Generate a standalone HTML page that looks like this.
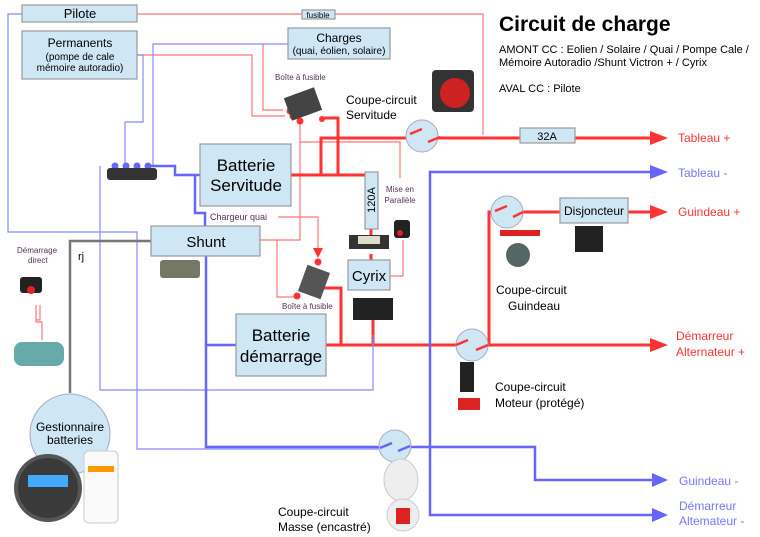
<!DOCTYPE html>
<html><head><meta charset="utf-8"><style>
body{margin:0;background:#fff}
svg{display:block;font-family:"Liberation Sans",sans-serif}
.b{fill:#cfe6f5;stroke:#999;stroke-width:1.2}
.c{fill:#cfe6f5;stroke:#aab;stroke-width:1}
</style></head><body>
<svg width="760" height="537" viewBox="0 0 760 537">
<defs>
<marker id="ar" markerWidth="8" markerHeight="8" refX="1" refY="4" orient="auto" markerUnits="userSpaceOnUse"><path d="M0,0 L0,0"/></marker>
</defs>
<!-- thin red lines -->
<g fill="none" stroke="#f77" stroke-width="1.2">
<path d="M137,14 H483 V135"/>
<path d="M137,55 H252 V116 H285"/>
<path d="M263,44 V110 H283"/>
<path d="M300,120 V240 H260"/>
<path d="M300,142 H400 V178"/>
<path d="M403,240 V276 H390"/>
<path d="M278,217 H318 V250"/>
<path d="M277,240 V297 H296"/>
<path d="M36,305 V322 H42 V340"/>
<path d="M40,305 V320 H36"/>
</g>
<polygon points="313,248 323,248 318,258" fill="#f33"/>
<!-- thick red -->
<g fill="none" stroke="#f33" stroke-width="3">
<path d="M291,175 H371"/>
<path d="M321,175 V138 H406"/>
<path d="M338,175 V118 H322"/>
<path d="M438,138 H520 M575,138 H652"/>
<path d="M371,229 V236 M371,254 V260 M373,318 V345"/>
<path d="M322,288 H341 V345"/>
<path d="M326,345 H456 M488,345 H652"/>
<path d="M489,345 V212 H491 M523,212 H560 M628,212 H652"/>
</g>
<g fill="#f33">
<polygon points="650,131 668,138 650,145"/>
<polygon points="650,205 668,212 650,219"/>
<polygon points="650,338 668,345 650,352"/>
<circle cx="290" cy="111" r="3.5"/><circle cx="293" cy="116" r="3.5"/><circle cx="300" cy="121" r="3.5"/><circle cx="322" cy="119" r="3"/>
<circle cx="318" cy="262" r="3.5"/><circle cx="297" cy="296" r="3.5"/><circle cx="321" cy="288" r="3.5"/>
</g>
<!-- thin blue -->
<g fill="none" stroke="#88f" stroke-width="1.2">
<path d="M22,14 H8 V232 H137 V449 H380"/>
<path d="M125,166 V122 H143 V55 H137"/>
<path d="M153,166 V44 H288"/>
<path d="M100,166 V390 H373 V335"/>
</g>
<!-- thick blue -->
<g fill="none" stroke="#66f" stroke-width="2.5">
<path d="M148,166 H175 V175 H200"/>
<path d="M195,175 V213 H205 V226"/>
<path d="M206,256 V447 H380"/>
<path d="M206,345 H236"/>
<path d="M410,447 H535 V480 H658"/>
<path d="M430,447 V172 H658"/>
<path d="M430,447 V515 H658"/>
</g>
<g fill="#66f">
<polygon points="650,165 668,172 650,179"/>
<polygon points="652,473 668,480 652,487"/>
<polygon points="652,508 668,515 652,522"/>
<circle cx="115" cy="166" r="3.5"/><circle cx="126" cy="166" r="3.5"/><circle cx="137" cy="166" r="3.5"/><circle cx="148" cy="166" r="3.5"/>
</g>
<!-- gray -->
<path d="M151,241 H70 V393" fill="none" stroke="#777" stroke-width="2.5"/>
<!-- bus bar -->
<rect x="107" y="168" width="50" height="12" rx="3" fill="#333"/>
<!-- boxes -->
<rect class="b" x="22" y="5" width="115" height="17"/>
<text x="80" y="18" font-size="13" text-anchor="middle">Pilote</text>
<rect class="b" x="302" y="10" width="33" height="9"/>
<text x="318" y="18" font-size="8" text-anchor="middle">fusible</text>
<rect class="b" x="22" y="31" width="115" height="48"/>
<text x="80" y="47" font-size="12" text-anchor="middle">Permanents</text>
<text x="80" y="60" font-size="10" text-anchor="middle">(pompe de cale</text>
<text x="80" y="71" font-size="10" text-anchor="middle">mémoire autoradio)</text>
<rect class="b" x="288" y="28" width="102" height="31"/>
<text x="339" y="42" font-size="12" text-anchor="middle">Charges</text>
<text x="339" y="54" font-size="10" text-anchor="middle">(quai, éolien, solaire)</text>
<rect class="b" x="200" y="144" width="91" height="62"/>
<text x="246" y="171" font-size="17" text-anchor="middle">Batterie</text>
<text x="246" y="191" font-size="17" text-anchor="middle">Servitude</text>
<rect class="b" x="151" y="226" width="109" height="30"/>
<text x="206" y="247" font-size="15" text-anchor="middle">Shunt</text>
<rect class="b" x="236" y="314" width="90" height="62"/>
<text x="281" y="341" font-size="17" text-anchor="middle">Batterie</text>
<text x="281" y="362" font-size="17" text-anchor="middle">démarrage</text>
<rect class="b" x="348" y="260" width="42" height="30"/>
<text x="369" y="281" font-size="15" text-anchor="middle">Cyrix</text>
<rect class="b" x="365" y="172" width="13" height="57"/>
<text x="375" y="200" font-size="11" text-anchor="middle" transform="rotate(-90 375 200)" dy="0">120A</text>
<rect class="b" x="520" y="128" width="55" height="15"/>
<text x="547" y="140" font-size="11" text-anchor="middle">32A</text>
<rect class="b" x="560" y="198" width="68" height="25"/>
<text x="594" y="215" font-size="12" text-anchor="middle">Disjoncteur</text>
<!-- switch circles -->
<g>
<circle class="c" cx="422" cy="136" r="16"/><path d="M410,134 L422,129 M428,142 L440,137" stroke="#f33" stroke-width="2.5"/>
<circle class="c" cx="507" cy="212" r="16"/><path d="M495,211 L507,206 M513,217 L523,212" stroke="#f33" stroke-width="2.5"/>
<circle class="c" cx="472" cy="345" r="16"/><path d="M456,345 L468,340 M476,350 L488,345" stroke="#f33" stroke-width="2.5"/>
<circle class="c" cx="395" cy="446" r="16"/><path d="M380,448 L392,443 M398,451 L410,446" stroke="#66f" stroke-width="2.5"/>
</g>
<!-- gestionnaire -->
<circle class="c" cx="70" cy="434" r="40"/>
<text x="70" y="431" font-size="12" text-anchor="middle">Gestionnaire</text>
<text x="70" y="444" font-size="12" text-anchor="middle">batteries</text>
<circle cx="48" cy="488" r="34" fill="#555"/><circle cx="48" cy="488" r="30" fill="#3a3a3a"/>
<rect x="28" y="475" width="40" height="12" fill="#4af"/>
<rect x="84" y="451" width="34" height="72" rx="5" fill="#fafafa" stroke="#ccc"/>
<rect x="88" y="466" width="26" height="6" fill="#f90"/>
<!-- device images (approx) -->
<rect x="287" y="92" width="32" height="24" fill="#444" transform="rotate(-20 303 104)"/>
<rect x="432" y="70" width="42" height="42" rx="4" fill="#333"/><circle cx="455" cy="93" r="15" fill="#c22"/>
<rect x="160" y="260" width="40" height="18" rx="3" fill="#776"/>
<rect x="20" y="277" width="22" height="16" rx="3" fill="#222"/><circle cx="31" cy="290" r="4" fill="#d22"/>
<rect x="14" y="342" width="50" height="24" rx="8" fill="#6aa"/>
<rect x="349" y="235" width="40" height="14" fill="#333"/><rect x="358" y="236" width="22" height="8" fill="#ddc"/>
<rect x="394" y="220" width="16" height="18" rx="3" fill="#222"/><circle cx="400" cy="233" r="3" fill="#d22"/>
<rect x="353" y="298" width="40" height="22" fill="#222"/>
<rect x="302" y="268" width="24" height="28" fill="#555" transform="rotate(20 314 282)"/>
<rect x="500" y="230" width="40" height="6" fill="#d22"/><circle cx="518" cy="255" r="12" fill="#566"/>
<rect x="575" y="226" width="28" height="26" fill="#222"/>
<rect x="460" y="362" width="14" height="30" fill="#222"/><rect x="458" y="398" width="22" height="12" fill="#d22"/>
<ellipse cx="401" cy="480" rx="17" ry="21" fill="#eee" stroke="#ccc"/><circle cx="403" cy="515" r="16" fill="#eee" stroke="#ccc"/><rect x="396" y="508" width="14" height="16" fill="#d22"/>
<!-- labels -->
<text x="499" y="31" font-size="21" font-weight="bold">Circuit de charge</text>
<text x="499" y="53" font-size="11">AMONT CC : Eolien / Solaire / Quai / Pompe Cale /</text>
<text x="499" y="66" font-size="11">Mémoire Autoradio /Shunt Victron + / Cyrix</text>
<text x="499" y="92" font-size="11">AVAL CC :  Pilote</text>
<text x="275" y="80" font-size="8" fill="#535">Boîte à fusible</text>
<text x="346" y="104" font-size="12">Coupe-circuit</text>
<text x="346" y="119" font-size="12">Servitude</text>
<text x="210" y="220" font-size="9" fill="#535">Chargeur quai</text>
<text x="384" y="192" font-size="8" fill="#535" text-anchor="middle" transform="translate(16 0)">Mise en</text>
<text x="400" y="203" font-size="8" fill="#535" text-anchor="middle">Parallèle</text>
<text x="282" y="309" font-size="8" fill="#535">Boîte à fusible</text>
<text x="17" y="253" font-size="8" fill="#535">Démarrage</text>
<text x="28" y="263" font-size="8" fill="#535">direct</text>
<text x="78" y="260" font-size="11">rj</text>
<text x="496" y="294" font-size="12">Coupe-circuit</text>
<text x="508" y="310" font-size="12">Guindeau</text>
<text x="495" y="391" font-size="12">Coupe-circuit</text>
<text x="495" y="407" font-size="12">Moteur (protégé)</text>
<text x="278" y="516" font-size="12">Coupe-circuit</text>
<text x="278" y="531" font-size="12">Masse (encastré)</text>
<g font-size="12" fill="#f33">
<text x="678" y="142">Tableau +</text>
<text x="678" y="216">Guindeau +</text>
<text x="676" y="340">Démarreur</text>
<text x="676" y="356">Alternateur +</text>
</g>
<g font-size="12" fill="#77f">
<text x="678" y="177">Tableau -</text>
<text x="679" y="485">Guindeau -</text>
<text x="679" y="510">Démarreur</text>
<text x="679" y="525">Altemateur -</text>
</g>
</svg>
</body></html>
